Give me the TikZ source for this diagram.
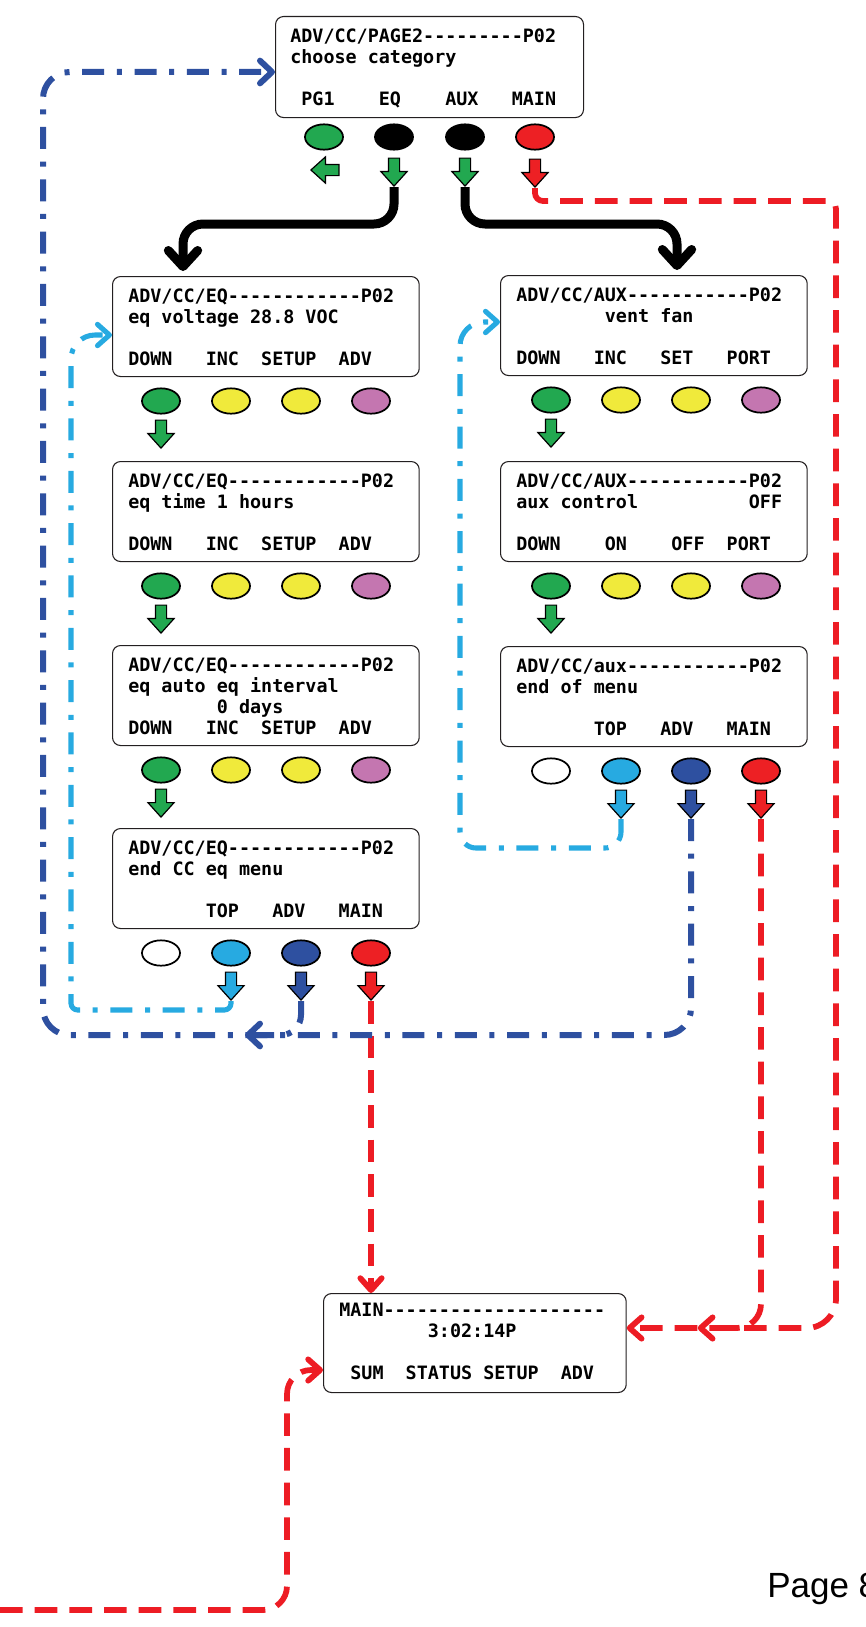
\documentclass[tikz,border=0pt]{standalone}
\usepackage{fontspec}
\setmainfont{Liberation Sans}
\setmonofont{DejaVu Sans Mono}
\usetikzlibrary{shapes.geometric,shapes.arrows,arrows.meta,calc}

\begin{document}
\begin{tikzpicture}[x=0.75pt,y=0.75pt,yscale=-1,xscale=1,
  screen/.style={draw={rgb, 255:red, 35; green, 31; blue, 32 }, line width=0.8pt, rounded corners=6pt, anchor=north west, inner sep=0pt, minimum width=230pt, minimum height=75pt},
  lcd/.style={anchor=base west, inner sep=0pt, font=\ttfamily\bfseries\fontsize{13.8}{15.75}\selectfont},
  key/.style={ellipse, draw, line width=1.3pt, minimum width=28.5pt, minimum height=19pt, inner sep=0pt},
  blockarr/.style={single arrow, draw, line width=0.9pt, anchor=tip, minimum height=21pt, inner xsep=0pt, inner ysep=3.75pt, single arrow head extend=5.6pt, single arrow tip angle=84},
  dnarr/.style={blockarr, rotate=-90},
  kgreen/.style={fill={rgb, 255:red, 34; green, 168; blue, 80 }},
  kyellow/.style={fill={rgb, 255:red, 240; green, 234; blue, 59 }},
  kpink/.style={fill={rgb, 255:red, 196; green, 118; blue, 176 }},
  kcyan/.style={fill={rgb, 255:red, 39; green, 170; blue, 225 }},
  kblue/.style={fill={rgb, 255:red, 46; green, 80; blue, 160 }},
  kred/.style={fill={rgb, 255:red, 237; green, 32; blue, 36 }},
  thickarr/.style={line width=6.75pt, rounded corners=15pt, -{Straight Barb[length=12pt,width=22pt,round]}},
  reddash/.style={draw={rgb, 255:red, 237; green, 28; blue, 36 }, line width=4.3pt, dash pattern=on 17pt off 9pt, -{Straight Barb[length=9pt,width=16pt,round]}},
  bluedash/.style={draw={rgb, 255:red, 46; green, 80; blue, 160 }, line width=4.5pt, dash pattern=on 16.5pt off 9.5pt on 3.75pt off 9.5pt, -{Straight Barb[length=9pt,width=17pt,round]}},
  cyandash/.style={draw={rgb, 255:red, 39; green, 170; blue, 225 }, line width=3.8pt, dash pattern=on 16.5pt off 9.5pt on 3.75pt off 9.5pt, -{Straight Barb[length=9pt,width=16pt,round]}}
]
\useasboundingbox (0,0) rectangle (866,1627);

% Choose category screen
\node[screen, minimum width=231pt, minimum height=75.75pt] (pagetwo) at (275,16) {};
% Text Node
\node[lcd] (pagetwotxt) at ($(pagetwo.north west)+(15,27)$) {\parbox[t]{220pt}{ADV/CC/PAGE2---------P02\\choose category\\\mbox{}\\\mbox{}~PG1~~~~EQ~~~~AUX~~~MAIN}};
\node[key, kgreen] (pgkey) at (324,137) {};
\node[key, fill=black] (eqkey) at (394,137) {};
\node[key, fill=black] (auxkey) at (465,137) {};
\node[key, kred] (mainkey) at (535,137) {};
\node[blockarr, kgreen, rotate=180] (pgarr) at (310,170) {};
\node[dnarr, kgreen] (eqarr) at (394,187) {};
\node[dnarr, kgreen] (auxarr) at (465,187) {};
\node[dnarr, kred] (mainarr) at (535,188) {};

% EQ column
\node[screen] (eqvolt) at (112,276) {};
% Text Node
\node[lcd] (eqvolttxt) at ($(eqvolt.north west)+(16,26.5)$) {\parbox[t]{220pt}{ADV/CC/EQ------------P02\\eq voltage 28.8 VOC\\\mbox{}\\DOWN~~~INC~~SETUP~~ADV}};
\node[key, kgreen] (eqvoltk1) at (161,401) {};
\node[key, kyellow] (eqvoltk2) at (231,401) {};
\node[key, kyellow] (eqvoltk3) at (301,401) {};
\node[key, kpink] (eqvoltk4) at (371,401) {};
\node[dnarr, kgreen] (eqvoltdn) at (161,449) {};

\node[screen] (eqtime) at (112,461) {};
% Text Node
\node[lcd] (eqtimetxt) at ($(eqtime.north west)+(16,26.5)$) {\parbox[t]{220pt}{ADV/CC/EQ------------P02\\eq time 1 hours\\\mbox{}\\DOWN~~~INC~~SETUP~~ADV}};
\node[key, kgreen] (eqtimek1) at (161,586) {};
\node[key, kyellow] (eqtimek2) at (231,586) {};
\node[key, kyellow] (eqtimek3) at (301,586) {};
\node[key, kpink] (eqtimek4) at (371,586) {};
\node[dnarr, kgreen] (eqtimedn) at (161,634) {};

\node[screen] (eqauto) at (112,645) {};
% Text Node
\node[lcd] (eqautotxt) at ($(eqauto.north west)+(16,26.5)$) {\parbox[t]{220pt}{ADV/CC/EQ------------P02\\eq auto eq interval\\\mbox{}~~~~~~~~0 days\\DOWN~~~INC~~SETUP~~ADV}};
\node[key, kgreen] (eqautok1) at (161,770) {};
\node[key, kyellow] (eqautok2) at (231,770) {};
\node[key, kyellow] (eqautok3) at (301,770) {};
\node[key, kpink] (eqautok4) at (371,770) {};
\node[dnarr, kgreen] (eqautodn) at (161,818) {};

\node[screen] (eqend) at (112,828) {};
% Text Node
\node[lcd] (eqendtxt) at ($(eqend.north west)+(16,26.5)$) {\parbox[t]{220pt}{ADV/CC/EQ------------P02\\end CC eq menu\\\mbox{}\\\mbox{}~~~~~~~TOP~~~ADV~~~MAIN}};
\node[key, fill=white] (eqendk1) at (161,953) {};
\node[key, kcyan] (eqendk2) at (231,953) {};
\node[key, kblue] (eqendk3) at (301,953) {};
\node[key, kred] (eqendk4) at (371,953) {};
\node[dnarr, kcyan] (eqtopdn) at (231,1001) {};
\node[dnarr, kblue] (eqadvdn) at (301,1001) {};
\node[dnarr, kred] (eqmaindn) at (371,1001) {};

% AUX column
\node[screen] (ventfan) at (500,275) {};
% Text Node
\node[lcd] (ventfantxt) at ($(ventfan.north west)+(16,26.5)$) {\parbox[t]{220pt}{ADV/CC/AUX-----------P02\\\mbox{}~~~~~~~~vent fan\\\mbox{}\\DOWN~~~INC~~~SET~~~PORT}};
\node[key, kgreen] (ventfank1) at (551,400) {};
\node[key, kyellow] (ventfank2) at (621,400) {};
\node[key, kyellow] (ventfank3) at (691,400) {};
\node[key, kpink] (ventfank4) at (761,400) {};
\node[dnarr, kgreen] (ventfandn) at (551,448) {};

\node[screen] (auxctl) at (500,461) {};
% Text Node
\node[lcd] (auxctltxt) at ($(auxctl.north west)+(16,26.5)$) {\parbox[t]{220pt}{ADV/CC/AUX-----------P02\\aux control~~~~~~~~~~OFF\\\mbox{}\\DOWN~~~~ON~~~~OFF~~PORT}};
\node[key, kgreen] (auxctlk1) at (551,586) {};
\node[key, kyellow] (auxctlk2) at (621,586) {};
\node[key, kyellow] (auxctlk3) at (691,586) {};
\node[key, kpink] (auxctlk4) at (761,586) {};
\node[dnarr, kgreen] (auxctldn) at (551,634) {};

\node[screen] (auxend) at (500,646) {};
% Text Node
\node[lcd] (auxendtxt) at ($(auxend.north west)+(16,26.5)$) {\parbox[t]{220pt}{ADV/CC/aux-----------P02\\end of menu\\\mbox{}\\\mbox{}~~~~~~~TOP~~~ADV~~~MAIN}};
\node[key, fill=white] (auxendk1) at (551,771) {};
\node[key, kcyan] (auxendk2) at (621,771) {};
\node[key, kblue] (auxendk3) at (691,771) {};
\node[key, kred] (auxendk4) at (761,771) {};
\node[dnarr, kcyan] (auxtopdn) at (621,819) {};
\node[dnarr, kblue] (auxadvdn) at (691,819) {};
\node[dnarr, kred] (auxmaindn) at (761,819) {};

% Main screen
\node[screen, minimum width=227pt, minimum height=74.25pt] (mainscr) at (323,1293) {};
% Text Node
\node[lcd] (mainscrtxt) at ($(mainscr.north west)+(16,23)$) {\parbox[t]{220pt}{MAIN--------------------\\\mbox{}~~~~~~~~3:02:14P\\\mbox{}\\\mbox{}~SUM~~STATUS~SETUP~~ADV}};

% Text Node
\node[anchor=base west, inner sep=0pt, font=\fontsize{26.25}{30}\selectfont] (pagenum) at (767,1597) {Page 8};

%Connectors
\coordinate (redtop) at (836,201);
\coordinate (redfree) at (0,1610);
\coordinate (bluecorner) at (43,1035);
\coordinate (cyanleft) at (71,1010);
\coordinate (cyanright) at (460,848);

\draw[thickarr] (eqarr.tip) -- ++(0,37) -| ($(eqvolt.north west)+(71,-5)$);
\draw[thickarr] (auxarr.tip) -- ++(0,37) -| ($(ventfan.north west)+(177,-5)$);

\draw[reddash, rounded corners=6pt] (mainarr.tip) |- (redtop) [rounded corners=22pt] |- ($(mainscr.north east)+(0,35)$);
\draw[reddash, rounded corners=18pt] (auxmaindn.tip) |- ($(mainscr.north east)+(71,35)$);
\draw[reddash] (eqmaindn.tip) -- (eqmaindn.tip |- mainscr.north);
\draw[reddash, rounded corners=18pt] (redfree) -| ($(mainscr.north west)+(-36,77)$) -- ($(mainscr.north west)+(0,77)$);

\draw[cyandash, rounded corners=5pt] (eqtopdn.tip) |- (cyanleft) [rounded corners=18pt] |- ($(eqvolt.north west)+(0,59)$);
\draw[cyandash, rounded corners=12pt] (auxtopdn.tip) |- (cyanright) [rounded corners=18pt] |- ($(ventfan.north west)+(0,47)$);

\draw[bluedash, rounded corners=20pt] (auxadvdn.tip) |- (bluecorner) |- ($(pagetwo.north west)+(0,56)$);
\draw[bluedash, rounded corners=15pt] (eqadvdn.tip) |- ($(bluecorner)+(202,0)$);
\end{tikzpicture}
\end{document}
